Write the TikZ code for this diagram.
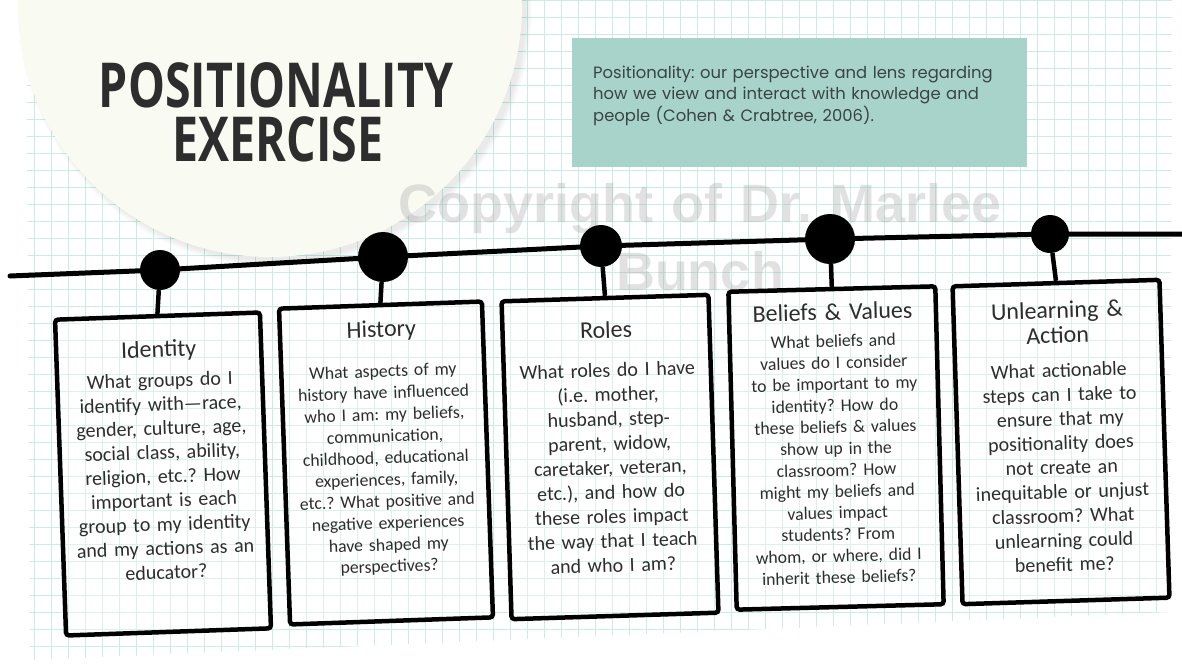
\documentclass[tikz,border=0pt]{standalone}
\usepackage{fontspec}
\setmainfont{Carlito}
\newfontfamily\headfont{Open Sans}[FakeStretch=0.75]
\newfontfamily\notefont{Poppins}
\newfontfamily\markfont{Liberation Sans}
\usetikzlibrary{positioning,calc}
\frenchspacing

\definecolor{gridteal}{RGB}{203,235,231}
\definecolor{paper}{RGB}{249,250,242}
\definecolor{notebg}{RGB}{168,211,203}
\definecolor{ink}{RGB}{45,45,45}
\definecolor{noteink}{RGB}{58,68,66}
\definecolor{markgray}{RGB}{150,150,150}

\tikzset{
  gridline/.style={gridteal, line width=1pt},
  card/.style={draw=black, line width=4.5pt, rounded corners=3pt, fill=white, fill opacity=0.3, inner sep=0pt},
  cardtitle/.style={anchor=base, inner sep=0pt, text width=200pt, align=center, text=ink, font=\fontsize{24}{22}\selectfont},
  cardbody/.style={anchor=base, inner sep=0pt, text width=200pt, align=center, text=ink},
  headline/.style={anchor=base, inner sep=0pt, text height=45pt, text depth=0pt, text=ink,
                   font=\headfont\bfseries\fontsize{62}{62}\selectfont},
  dot/.style={circle, fill=black, inner sep=0pt},
  stem/.style={line width=4.5pt},
  timeline/.style={line width=5pt, line join=round, line cap=round},
}

\begin{document}
\begin{tikzpicture}[x=1pt, y=-1pt]
\useasboundingbox (0,0) rectangle (1182,664);
\fill[white] (0,0) rectangle (1182,664);

% graph paper
\begin{scope}
  \clip (26,0) -- (1172,0) -- (1170,612) -- (30,660) -- cycle;
  \foreach \gx in {0,17,...,1190}
    \draw[gridline] (\gx,0) -- (\gx,664);
  \foreach \gy in {0,17,...,670}
    \draw[gridline] (0,\gy) -- (1182,\gy);
\end{scope}

% round title sticker with a soft shadow
\foreach \s in {1,...,7}
  \fill[black, opacity=0.012] (275,10) circle[radius=250pt+\s pt];
\fill[paper] (270,5) circle[radius=252pt];

\node[headline] (title-a) at (276,107) {POSITIONALITY};
\node[headline] (title-b) at (278,161) {EXERCISE};

% definition box
\node[fill=notebg, minimum width=455, minimum height=129, anchor=north west, inner sep=0pt] (defbox) at (572,38) {};
\node[anchor=base west, inner sep=0pt, text width=440pt, align=left, text=noteink,
      font=\notefont\fontsize{16.4}{21.5}\selectfont] (deftext) at (593,78)
  {Positionality: our perspective and lens regarding\\
   how we view and interact with knowledge and\\
   people (Cohen \& Crabtree, 2006).};

% watermark
\node[cardtitle, text width=700pt, text=markgray, opacity=0.28,
      font=\markfont\bfseries\fontsize{54}{68}\selectfont] (mark) at (700,222)
  {Copyright of Dr. Marlee\\Bunch};

% timeline with its knots
\node[dot, minimum size=40] (d1) at (160,270) {};
\node[dot, minimum size=50] (d2) at (383,257) {};
\node[dot, minimum size=42] (d3) at (601,246) {};
\node[dot, minimum size=50] (d4) at (830,239) {};
\node[dot, minimum size=38] (d5) at (1050,234) {};
\coordinate (tl-a) at (10,276);
\coordinate (tl-b) at (1182,234);
\draw[timeline] (tl-a) -- (d1.center) -- (d2.center) -- (d3.center) -- (d4.center) -- (d5.center) -- (tl-b);

% cards
\begin{scope}[shift={(163,474)}, rotate=2, transform shape]
  \node[card, minimum width=205, minimum height=316] (id) at (0,0) {};
  \node[cardtitle] (id-t) at (0,-117) {Identity};
  \node[cardbody, font=\fontsize{20}{24}\selectfont] (id-b) at (0,-87)
    {What groups do I\\identify with—race,\\gender, culture, age,\\social class, ability,\\religion, etc.? How\\important is each\\group to my identity\\and my actions as an\\educator?};
\end{scope}

\begin{scope}[shift={(386,463)}, rotate=2, transform shape]
  \node[card, minimum width=203, minimum height=316] (hist) at (0,0) {};
  \node[cardtitle] (hist-t) at (0,-126) {History};
  \node[cardbody, font=\fontsize{17.7}{21.7}\selectfont] (hist-b) at (0,-86)
    {What aspects of my\\history have influenced\\who I am: my beliefs,\\communication,\\childhood, educational\\experiences, family,\\etc.? What positive and\\negative experiences\\have shaped my\\perspectives?};
\end{scope}

\begin{scope}[shift={(610,457)}, rotate=1.8, transform shape]
  \node[card, minimum width=207, minimum height=318] (roles) at (0,0) {};
  \node[cardtitle] (roles-t) at (0,-119) {Roles};
  \node[cardbody, font=\fontsize{20}{24.4}\selectfont] (roles-b) at (0,-80)
    {What roles do I have\\(i.e. mother,\\husband, step-\\parent, widow,\\caretaker, veteran,\\etc.), and how do\\these roles impact\\the way that I teach\\and who I am?};
\end{scope}

\begin{scope}[shift={(836,448)}, rotate=1.5, transform shape]
  \node[card, minimum width=207, minimum height=318] (belief) at (0,0) {};
  \node[cardtitle] (belief-t) at (0,-128) {Beliefs \& Values};
  \node[cardbody, font=\fontsize{17.7}{21.5}\selectfont] (belief-b) at (0,-101)
    {What beliefs and\\values do I consider\\to be important to my\\identity? How do\\these beliefs \& values\\show up in the\\classroom? How\\might my beliefs and\\values impact\\students? From\\whom, or where, did I\\inherit these beliefs?};
\end{scope}

\begin{scope}[shift={(1061,442)}, rotate=1.8, transform shape]
  \node[card, minimum width=207, minimum height=318] (unlearn) at (0,0) {};
  \node[cardtitle] (unlearn-t) at (0,-124) {Unlearning \&};
  \node[cardtitle] (unlearn-u) at (0,-99) {Action};
  \node[cardbody, font=\fontsize{20}{24.3}\selectfont] (unlearn-b) at (0,-65)
    {What actionable\\steps can I take to\\ensure that my\\positionality does\\not create an\\inequitable or unjust\\classroom? What\\unlearning could\\benefit me?};
\end{scope}

% hangers from knots to cards
\draw[stem] (d1) -- (id.north);
\draw[stem] (d2) -- (hist.north);
\draw[stem] (d3) -- (roles.north);
\draw[stem] (d4) -- (belief.north);
\draw[stem] (d5) -- (unlearn.north);
\end{tikzpicture}
\end{document}
